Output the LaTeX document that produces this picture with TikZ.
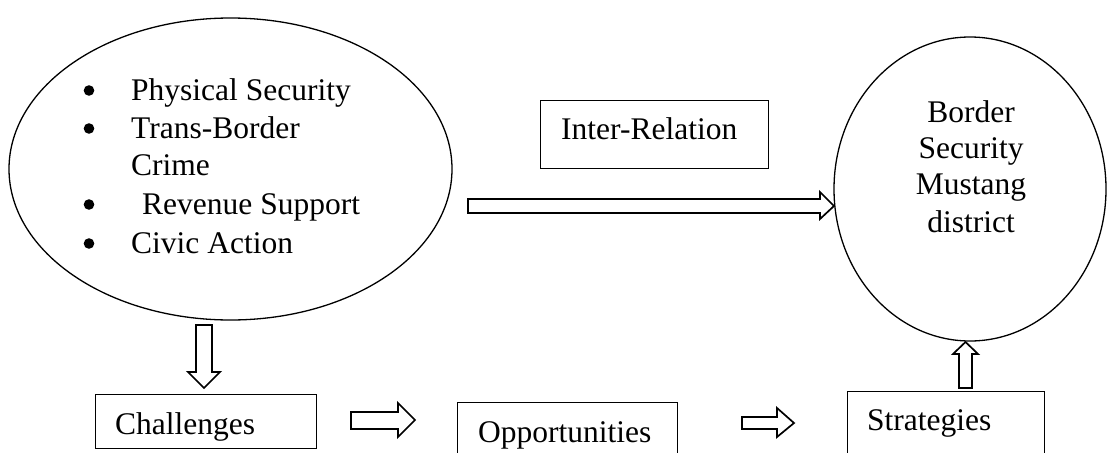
\documentclass[tikz,border=0pt]{standalone}
\usepackage{fontspec}
\setmainfont{Liberation Serif}
\begin{document}
\begin{tikzpicture}[x=1pt,y=-1pt,
  txt/.style={anchor=base west,inner sep=0pt,font=\fontsize{31.5}{37}\selectfont},
  ctxt/.style={anchor=base,inner sep=0pt,font=\fontsize{31.5}{37}\selectfont},
  boxline/.style={draw=black,line width=1pt},
  ovl/.style={draw=black,line width=1.3pt},
  blockarrow/.style={draw=black,line width=1.7pt,fill=white,line join=miter},
  bul/.style={fill=black}]
\useasboundingbox (0,0) rectangle (1107,452);
% left ellipse
\draw[ovl] (230.5,169) ellipse [x radius=221.5pt, y radius=151pt];
\coordinate (L) at (230.5,169);
\foreach \yy in {100,138,214,253} {\fill[bul] (89,\yy-9.5) circle (5.3pt);}
\node[txt] (t1) at (131,100) {Physical Security};
\node[txt] (t2) at (131,138) {Trans-Border};
\node[txt] (t3) at (131,175) {Crime};
\node[txt] (t4) at (142,214) {Revenue Support};
\node[txt] (t5) at (131,253) {Civic Action};
% right ellipse
\draw[ovl] (970,189) ellipse [x radius=136pt, y radius=152pt];
\node[ctxt] (r1) at (971,122) {Border};
\node[ctxt] (r2) at (971,158) {Security};
\node[ctxt] (r3) at (971,194) {Mustang};
\node[ctxt] (r4) at (971,232) {district};
% Inter-Relation box
\draw[boxline] (540,100) rectangle (768,168);
\node[txt] (ir) at (561,139) {Inter-Relation};
% bottom boxes
\draw[boxline] (95,394) rectangle (316,448);
\node[txt] (ch) at (115,434) {Challenges};
\draw[boxline] (457,453) -- (457,402) -- (677,402) -- (677,453);
\node[txt] (op) at (478,442) {Opportunities};
\draw[boxline] (847,453) -- (847,391) -- (1044,391) -- (1044,453);
\node[txt] (st) at (867,430) {Strategies};
% block arrows
\draw[blockarrow] (468,199) -- (820,199) -- (820,192) -- (834,206) -- (820,219) -- (820,213) -- (468,213) -- cycle;
\draw[blockarrow] (196,325) -- (212,325) -- (212,372) -- (220,372) -- (204,388) -- (188,372) -- (196,372) -- cycle;
\draw[blockarrow] (351,412) -- (398,412) -- (398,403) -- (415,420) -- (398,437) -- (398,429) -- (351,429) -- cycle;
\draw[blockarrow] (742,417) -- (777,417) -- (777,408) -- (794,423) -- (777,437) -- (777,429) -- (742,429) -- cycle;
\draw[blockarrow] (959,388) -- (959,354) -- (953,354) -- (965.5,342) -- (978,354) -- (972,354) -- (972,388) -- cycle;
\end{tikzpicture}
\end{document}
